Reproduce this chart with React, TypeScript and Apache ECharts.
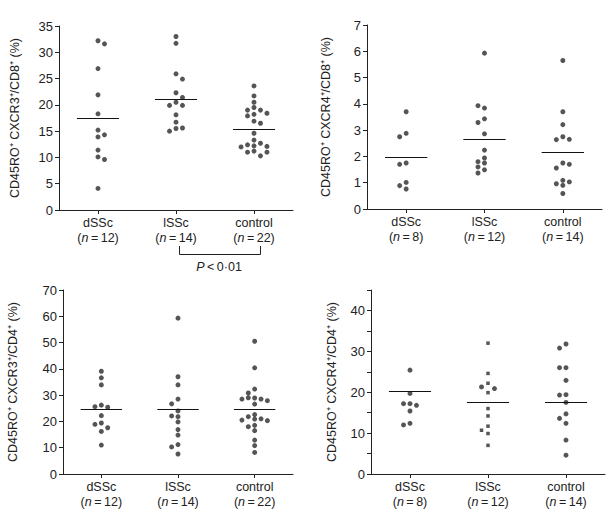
import React, { useEffect, useRef } from "react";
import * as echarts from "echarts";

const categories = ["dSSc", "lSSc", "control"];

// n per group, per panel
const nCounts1 = [12, 14, 22];
const nCounts2 = [8, 12, 14];
const nCounts3 = [12, 14, 22];
const nCounts4 = [8, 12, 14];

const yTitles = [
  "CD45RO\u207A CXCR3\u207A/CD8\u207A (%)",
  "CD45RO\u207A CXCR4\u207A/CD8\u207A (%)",
  "CD45RO\u207A CXCR3\u207A/CD4\u207A (%)",
  "CD45RO\u207A CXCR4\u207A/CD4\u207A (%)",
];

// [jitter step, value]
const p1dSSc = [[0, 32.2], [1, 31.6], [0, 26.9], [0, 21.9], [0, 18.3], [0, 15.2], [0, 13.9], [1, 14.3], [0, 11.4], [0, 10.1], [1, 9.6], [0, 4.1]];
const p1lSSc = [[0, 33.0], [0, 31.7], [0, 25.9], [1, 24.9], [0, 22.3], [1, 21.4], [-1, 19.9], [0, 20.5], [1, 19.9], [0, 18.1], [0, 16.7], [-1, 15.0], [0, 15.5], [1, 15.6]];
const p1control = [[0, 23.6], [0, 21.7], [0, 20.5], [0, 19.5], [-1, 19.0], [1, 19.0], [-1, 17.9], [0, 18.2], [2, 18.4], [0, 16.9], [1, 16.5], [0, 14.6], [0, 13.3], [-1, 12.4], [1, 12.7], [0, 12.2], [-2, 12.0], [2, 12.1], [-1, 11.0], [0, 11.2], [2, 11.0], [1, 10.3]];
const p1means = [17.4, 21.05, 15.35];

const p2dSSc = [[0, 3.7], [-1, 2.75], [0, 2.88], [-1, 1.7], [0, 1.75], [-1, 0.89], [0, 1.01], [0, 0.76]];
const p2lSSc = [[0, 5.93], [-1, 3.93], [0, 3.84], [-1, 3.29], [0, 3.43], [0, 2.86], [0, 2.24], [0, 1.94], [-1, 1.8], [0, 1.75], [-1, 1.6], [0, 1.49], [-1, 1.37]];
const p2control = [[0, 5.65], [0, 3.7], [0, 3.21], [-1, 2.64], [0, 2.75], [1, 2.65], [-1, 1.56], [0, 1.75], [1, 1.7], [-1, 0.96], [0, 1.09], [0, 0.9], [1, 1.03], [0, 0.59]];
const p2means = [1.98, 2.66, 2.17];

const p3dSSc = [[0, 39.1], [0, 36.6], [0, 33.9], [-1, 25.6], [0, 26.2], [1, 25.4], [0, 22.2], [-1, 18.9], [0, 19.4], [1, 17.6], [0, 16.2], [0, 11.0]];
const p3lSSc = [[0, 59.3], [0, 37.0], [0, 33.9], [0, 28.5], [-1, 26.7], [0, 24.0], [-1, 22.1], [0, 21.8], [0, 19.8], [0, 16.9], [0, 14.8], [-1, 10.3], [0, 11.2], [0, 7.6]];
const p3control = [[0, 50.5], [0, 40.4], [0, 32.3], [-1, 30.8], [-2, 28.5], [-1, 29.0], [0, 28.9], [1, 28.5], [2, 27.9], [0, 26.6], [0, 22.6], [-1, 21.8], [-2, 20.5], [0, 20.9], [1, 21.0], [2, 20.3], [-1, 18.0], [0, 18.5], [0, 16.5], [0, 12.9], [0, 10.8], [0, 8.2]];
const p3means = [24.7, 24.7, 24.6];

const p4dSSc = [[0, 25.4], [0, 19.7], [-1, 17.2], [0, 17.2], [1, 16.8], [0, 15.4], [-1, 12.0], [0, 12.4]];
const p4lSSc = [[0, 32.0], [0, 24.6], [0, 22.2], [-1, 21.3], [1, 20.9], [0, 19.9], [0, 16.0], [0, 14.2], [0, 11.7], [-1, 10.7], [0, 9.9], [0, 7.0]];
const p4lSScRound = [false, false, false, true, true, false, false, false, false, false, false, false];
const p4control = [[-1, 30.8], [0, 31.8], [-1, 26.0], [0, 26.0], [0, 22.9], [-1, 19.3], [0, 19.4], [0, 17.5], [0, 14.7], [-1, 13.6], [0, 12.4], [0, 8.3], [0, 4.6]];
const p4means = [20.2, 17.5, 17.5];

const yMax = [35, 7, 70, 45];
const yInterval = [5, 1, 10, 5];

const STEP = 0.083;
const HALF = 0.27;
const FONT = "Liberation Sans, Arial, Helvetica, sans-serif";
const INK = "#222";
const DOT = "#2b2b2b";

const grids = [
  { left: 59, top: 26, width: 234, height: 184 },
  { left: 367, top: 25, width: 235, height: 184 },
  { left: 63, top: 290, width: 230, height: 184 },
  { left: 371, top: 290, width: 234, height: 184 },
];
const nameGaps = [38, 35, 44, 33];

export default function App() {
  const ref = useRef<HTMLDivElement>(null);

  useEffect(() => {
    if (!ref.current) return;
    const chart = echarts.init(ref.current, undefined, { renderer: "svg" });

    const panels = [
      { groups: [p1dSSc, p1lSSc, p1control], means: p1means, n: nCounts1 },
      { groups: [p2dSSc, p2lSSc, p2control], means: p2means, n: nCounts2 },
      { groups: [p3dSSc, p3lSSc, p3control], means: p3means, n: nCounts3 },
      { groups: [p4dSSc, p4lSSc, p4control], means: p4means, n: nCounts4 },
    ];

    const xAxis: any[] = [];
    const yAxis: any[] = [];
    const series: any[] = [];

    panels.forEach((p, pi) => {
      xAxis.push({
        type: "category",
        gridIndex: pi,
        data: categories,
        boundaryGap: true,
        axisLine: { show: true, onZero: false, lineStyle: { color: INK, width: 1 } },
        axisTick: { show: true, alignWithLabel: true, length: 4, lineStyle: { color: INK } },
        splitLine: { show: false },
        axisLabel: {
          margin: 5,
          interval: 0,
          color: INK,
          fontFamily: FONT,
          fontSize: 12.5,
          lineHeight: 15,
          formatter: (v: string, i: number) =>
            `{a|${v}}\n{b|(}{i|n}{b|\u2009=\u2009${p.n[i]})}`,
          rich: {
            a: { fontFamily: FONT, fontSize: 12.5, color: INK, lineHeight: 15 },
            b: { fontFamily: FONT, fontSize: 12.5, color: INK, lineHeight: 15 },
            i: { fontFamily: FONT, fontSize: 12.5, color: INK, lineHeight: 15, fontStyle: "italic" },
          },
        },
      });
      xAxis.push({
        type: "value",
        gridIndex: pi,
        min: -0.5,
        max: 2.5,
        show: false,
        axisLine: { onZero: false },
        splitLine: { show: false },
      });
      yAxis.push({
        type: "value",
        gridIndex: pi,
        min: 0,
        max: yMax[pi],
        interval: yInterval[pi],
        name: yTitles[pi],
        nameLocation: "middle",
        nameGap: nameGaps[pi],
        nameRotate: 90,
        nameTextStyle: { color: INK, fontFamily: FONT, fontSize: 12.5 },
        axisLine: { show: true, onZero: false, lineStyle: { color: INK, width: 1 } },
        axisTick: { show: true, length: 4, lineStyle: { color: INK } },
        splitLine: { show: false },
        axisLabel: {
          margin: 6,
          color: INK,
          fontFamily: FONT,
          fontSize: 13,
          formatter: (v: number) => (pi === 3 && v % 10 !== 0 ? "" : String(v)),
        },
      });

      p.groups.forEach((g, gi) => {
        series.push({
          type: "scatter",
          xAxisIndex: pi * 2 + 1,
          yAxisIndex: pi,
          symbol: "circle",
          symbolSize: 5,
          itemStyle: { color: DOT },
          silent: true,
          data: g.map((d, k) => {
            const item: any = { value: [gi + d[0] * STEP, d[1]] };
            if (pi === 3 && gi === 1 && !p4lSScRound[k]) {
              item.symbol = "rect";
              item.symbolSize = 3.5;
            }
            return item;
          }),
          markLine: {
            silent: true,
            symbol: ["none", "none"],
            label: { show: false },
            lineStyle: { color: "#111", width: 1, type: "solid" },
            data: [[{ coord: [gi - HALF, p.means[gi]] }, { coord: [gi + HALF, p.means[gi]] }]],
          },
        });
      });
    });

    chart.setOption({
      animation: false,
      backgroundColor: "#fff",
      textStyle: { fontFamily: FONT },
      grid: grids.map((g) => ({ ...g })),
      xAxis,
      yAxis,
      series,
      graphic: [
        {
          type: "polyline",
          shape: { points: [[179.5, 246], [179.5, 254.5], [260.5, 254.5], [260.5, 246]] },
          style: { stroke: INK, lineWidth: 1, fill: "none" },
          silent: true,
        },
        {
          type: "text",
          x: 219,
          y: 267,
          silent: true,
          style: {
            text: "{i|P}{n|\u2009<\u20090\u00B701}",
            align: "center",
            verticalAlign: "middle",
            rich: {
              i: { fontFamily: FONT, fontSize: 12.5, fontStyle: "italic", fill: INK },
              n: { fontFamily: FONT, fontSize: 12.5, fill: INK },
            },
          },
        },
      ],
    });

    return () => chart.dispose();
  }, []);

  return (
    <div
      ref={ref}
      style={{ position: "fixed", left: 0, top: 0, width: 607, height: 515, background: "#fff" }}
    />
  );
}
